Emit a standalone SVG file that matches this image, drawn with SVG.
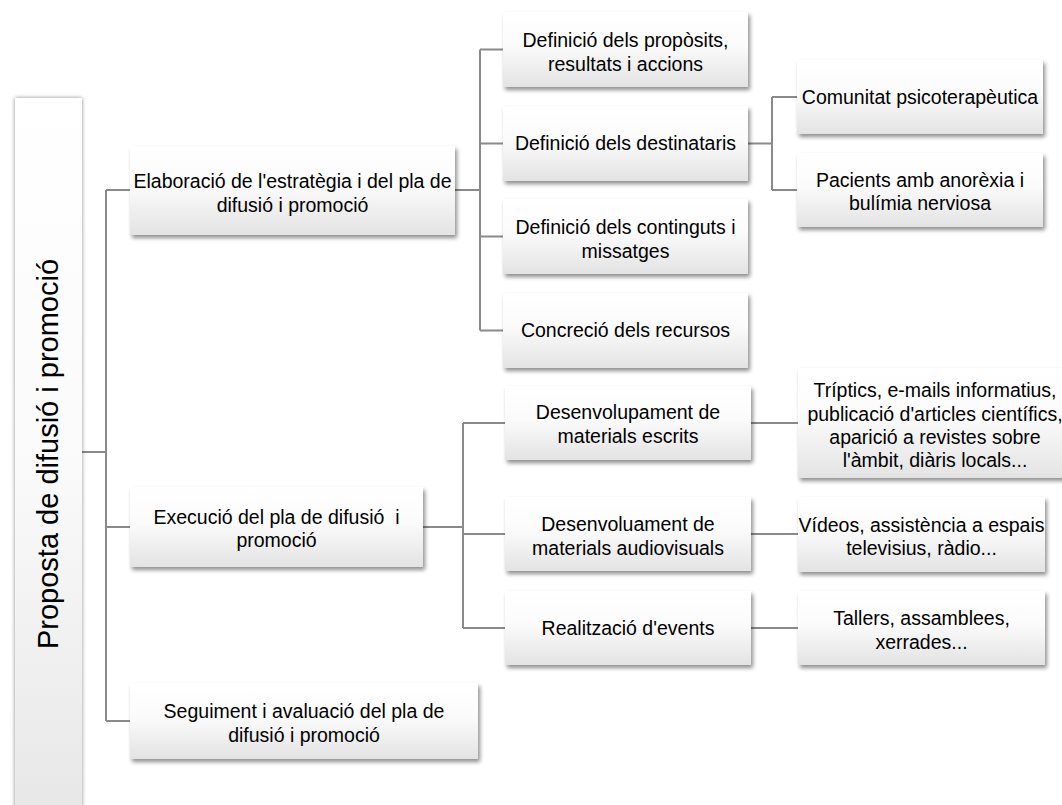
<svg xmlns="http://www.w3.org/2000/svg" width="1062" height="805" viewBox="0 0 1062 805">
<defs>
<linearGradient id="g" x1="0" y1="0" x2="0" y2="1">
<stop offset="0" stop-color="#ffffff"/>
<stop offset="0.45" stop-color="#fbfbfb"/>
<stop offset="1" stop-color="#e3e3e3"/>
</linearGradient>
<linearGradient id="gr" x1="0" y1="0" x2="0" y2="1">
<stop offset="0" stop-color="#ffffff"/>
<stop offset="0.5" stop-color="#fafafa"/>
<stop offset="1" stop-color="#e6e6e6"/>
</linearGradient>
<filter id="sh" x="-10%" y="-10%" width="125%" height="135%">
<feGaussianBlur in="SourceAlpha" stdDeviation="2"/>
<feOffset dx="1.5" dy="3" result="b"/>
<feComponentTransfer><feFuncA type="linear" slope="0.45"/></feComponentTransfer>
<feMerge><feMergeNode/><feMergeNode in="SourceGraphic"/></feMerge>
</filter>
<filter id="shr" x="-20%" y="-5%" width="140%" height="110%">
<feGaussianBlur in="SourceAlpha" stdDeviation="2"/>
<feComponentTransfer><feFuncA type="linear" slope="0.45"/></feComponentTransfer>
<feMerge><feMergeNode/><feMergeNode in="SourceGraphic"/></feMerge>
</filter>
</defs>
<style>
.box{fill:url(#g);filter:url(#sh);}
.rbox{fill:url(#gr);filter:url(#shr);}
.t{font-family:"Liberation Sans",Arial,sans-serif;font-size:19.5px;fill:#000;text-anchor:middle;}
.root{font-family:"Liberation Sans",Arial,sans-serif;font-size:29px;fill:#000;text-anchor:middle;}
.c{fill:none;stroke:#8a8a8a;stroke-width:2;}
</style>
<rect width="1062" height="805" fill="#ffffff"/>
<g id="connectors">
<path class="c" d="M82,452H106M106,190V721M106,190H130M106,527H130M106,721H130"/>
<path class="c" d="M455,190H480M480,49.5V330.5M480,49.5H503M480,143.5H503M480,236.5H503M480,330.5H503"/>
<path class="c" d="M748,143.5H772M772,97V190M772,97H797M772,190H797"/>
<path class="c" d="M423,527H463M463,423V628M463,423H505M463,534H505M463,628H505"/>
<path class="c" d="M751,423H798M751,534H798M751,628H798"/>
</g>
<g id="root">
<rect class="rbox" x="15" y="98" width="67" height="740"/>
<text class="root" transform="translate(58,454) rotate(-90)">Proposta de difusió i promoció</text>
</g>
<g id="n-elaboracio">
<rect class="box" x="130" y="146" width="325" height="89"/>
<text class="t" x="292.5" y="188">Elaboració de l'estratègia i del pla de</text>
<text class="t" x="292.5" y="211.5">difusió i promoció</text>
</g>
<g id="n-propòsits">
<rect class="box" x="503" y="12" width="245" height="75"/>
<text class="t" x="625.5" y="47">Definició dels propòsits,</text>
<text class="t" x="625.5" y="70.5">resultats i accions</text>
</g>
<g id="n-destinataris">
<rect class="box" x="503" y="106" width="245" height="75"/>
<text class="t" x="625.5" y="150">Definició dels destinataris</text>
</g>
<g id="n-continguts">
<rect class="box" x="503" y="199" width="245" height="75"/>
<text class="t" x="625.5" y="234">Definició dels continguts i</text>
<text class="t" x="625.5" y="257.5">missatges</text>
</g>
<g id="n-recursos">
<rect class="box" x="503" y="293" width="245" height="75"/>
<text class="t" x="625.5" y="337">Concreció dels recursos</text>
</g>
<g id="n-comunitat">
<rect class="box" x="797" y="60" width="246" height="74"/>
<text class="t" x="920" y="103.5">Comunitat psicoterapèutica</text>
</g>
<g id="n-pacients">
<rect class="box" x="797" y="153" width="246" height="74"/>
<text class="t" x="920" y="186.5">Pacients amb anorèxia i</text>
<text class="t" x="920" y="210">bulímia nerviosa</text>
</g>
<g id="n-execucio">
<rect class="box" x="130" y="487" width="293" height="80"/>
<text class="t" x="276.5" y="523.5" xml:space="preserve">Execució del pla de difusió  i</text>
<text class="t" x="276.5" y="547">promoció</text>
</g>
<g id="n-escrits">
<rect class="box" x="505" y="386" width="246" height="74"/>
<text class="t" x="628" y="419">Desenvolupament de</text>
<text class="t" x="628" y="442.5">materials escrits</text>
</g>
<g id="n-audiovisuals">
<rect class="box" x="505" y="497" width="246" height="74"/>
<text class="t" x="628" y="531">Desenvoluament de</text>
<text class="t" x="628" y="554.5">materials audiovisuals</text>
</g>
<g id="n-events">
<rect class="box" x="505" y="591" width="246" height="74"/>
<text class="t" x="628" y="634.5">Realització d'events</text>
</g>
<g id="n-triptics">
<rect class="box" x="798" y="368" width="274" height="110"/>
<text class="t" x="935" y="397">Tríptics, e-mails informatius,</text>
<text class="t" x="935" y="420.5">publicació d'articles científics,</text>
<text class="t" x="935" y="444">aparició a revistes sobre</text>
<text class="t" x="935" y="467">l'àmbit, diàris locals...</text>
</g>
<g id="n-videos">
<rect class="box" x="798" y="497" width="247" height="75"/>
<text class="t" x="921.5" y="531.5">Vídeos, assistència a espais</text>
<text class="t" x="921.5" y="555">televisius, ràdio...</text>
</g>
<g id="n-tallers">
<rect class="box" x="798" y="591" width="247" height="74"/>
<text class="t" x="921.5" y="625">Tallers, assamblees,</text>
<text class="t" x="921.5" y="648.5">xerrades...</text>
</g>
<g id="n-seguiment">
<rect class="box" x="130" y="683" width="348" height="76"/>
<text class="t" x="304" y="718">Seguiment i avaluació del pla de</text>
<text class="t" x="304" y="741.5">difusió i promoció</text>
</g>
</svg>
